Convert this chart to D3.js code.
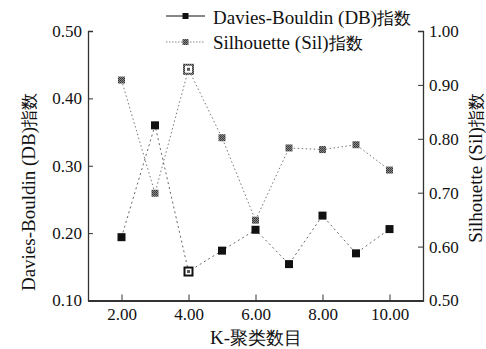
<!DOCTYPE html>
<html>
<head>
<meta charset="utf-8">
<script src="https://cdn.jsdelivr.net/npm/d3@7/dist/d3.min.js"></script>
<style>
  html, body { margin: 0; padding: 0; background: #fff; }
  svg { display: block; }
</style>
</head>
<body>
<svg id="chart" width="486" height="349"></svg>
<script>
// Cluster count K and the two validity indices
const kValues = [2, 3, 4, 5, 6, 7, 8, 9, 10];
const dbValues = [0.194, 0.360, 0.143, 0.174, 0.205, 0.154, 0.226, 0.170, 0.206];
const silValues = [0.909, 0.699, 0.929, 0.802, 0.649, 0.783, 0.780, 0.789, 0.742];
const bestK = 4;

const xTicks = [2, 4, 6, 8, 10];
const dbTicks = [0.1, 0.2, 0.3, 0.4, 0.5];
const silTicks = [0.5, 0.6, 0.7, 0.8, 0.9, 1.0];

// labels split into Latin / CJK runs so each run gets its own size
const dbLabel = ["Davies-Bouldin (DB)", "指数"];
const silLabel = ["Silhouette (Sil)", "指数"];
const xLabel = ["K-", "聚类数目"];

const FONT = '"Liberation Serif"';

const svg = d3.select("#chart");
const plotLeft = 88, plotRight = 423, plotTop = 31, plotBottom = 300.5;

const x = d3.scaleLinear().domain([1, 11]).range([plotLeft, plotRight]);
const yDB = d3.scaleLinear().domain([0.1, 0.5]).range([plotBottom, plotTop]);
const ySil = d3.scaleLinear().domain([0.5, 1.0]).range([plotBottom, plotTop]);

function styleAxis(g) {
  g.attr("font-family", FONT).attr("font-size", 17);
  g.select(".domain").attr("stroke", "#333").attr("stroke-width", 1.3);
  g.selectAll(".tick line").attr("stroke", "#333").attr("stroke-width", 1);
  g.selectAll(".tick text").attr("fill", "#111");
}

// bottom axis, ticks pointing inward
svg.append("g").attr("transform", `translate(0,${plotBottom})`)
  .call(d3.axisBottom(x).tickValues(xTicks).tickFormat(d3.format(".2f"))
    .tickSizeInner(-6).tickSizeOuter(0).tickPadding(7))
  .call(styleAxis)
  .call(g => g.select(".domain").attr("stroke-width", 2));

// left axis (DB)
svg.append("g").attr("transform", `translate(${plotLeft},0)`)
  .call(d3.axisLeft(yDB).tickValues(dbTicks).tickFormat(d3.format(".2f"))
    .tickSizeInner(-5).tickSizeOuter(-5).tickPadding(6))
  .call(styleAxis);

// right axis (Sil)
svg.append("g").attr("transform", `translate(${plotRight},0)`)
  .call(d3.axisRight(ySil).tickValues(silTicks).tickFormat(d3.format(".2f"))
    .tickSizeInner(-5).tickSizeOuter(-5).tickPadding(6))
  .call(styleAxis);

function mixedText(sel, parts, latinSize, cjkSize) {
  sel.append("tspan").attr("font-size", latinSize).text(parts[0]);
  sel.append("tspan").attr("font-size", cjkSize).text(parts[1]);
  return sel;
}

// axis titles
const titles = svg.append("g").attr("font-family", FONT).attr("fill", "#111");
titles.append("text")
  .attr("transform", `translate(35,192) rotate(-90)`)
  .attr("text-anchor", "middle")
  .call(mixedText, dbLabel, 19, 17);
titles.append("text")
  .attr("transform", `translate(482,168) rotate(-90)`)
  .attr("text-anchor", "middle")
  .call(mixedText, silLabel, 19, 17);
titles.append("text")
  .attr("x", 256).attr("y", 344)
  .attr("text-anchor", "middle")
  .call(mixedText, xLabel, 19, 18);

// series lines
const dbLine = d3.line().x((d, i) => x(kValues[i])).y(d => yDB(d));
const silLine = d3.line().x((d, i) => x(kValues[i])).y(d => ySil(d));

svg.append("path").datum(silValues).attr("d", silLine)
  .attr("fill", "none").attr("stroke", "#777").attr("stroke-width", 1)
  .attr("stroke-dasharray", "1.5,2.5");
svg.append("path").datum(dbValues).attr("d", dbLine)
  .attr("fill", "none").attr("stroke", "#666").attr("stroke-width", 1)
  .attr("stroke-dasharray", "2,3");

// patterned fill for the Sil markers
const defs = svg.append("defs");
const pat = defs.append("pattern").attr("id", "silFill")
  .attr("width", 2).attr("height", 2).attr("patternUnits", "userSpaceOnUse");
pat.append("rect").attr("width", 2).attr("height", 2).attr("fill", "#888");
pat.append("rect").attr("width", 1).attr("height", 1).attr("fill", "#333");
pat.append("rect").attr("x", 1).attr("y", 1).attr("width", 1).attr("height", 1).attr("fill", "#444");

// Sil markers
svg.append("g").selectAll("rect").data(silValues).join("rect")
  .attr("x", (d, i) => x(kValues[i]) - 3.5)
  .attr("y", d => ySil(d) - 3.5)
  .attr("width", 7).attr("height", 7)
  .attr("fill", "url(#silFill)");

// DB markers
svg.append("g").selectAll("rect").data(dbValues).join("rect")
  .attr("x", (d, i) => x(kValues[i]) - 4)
  .attr("y", d => yDB(d) - 4)
  .attr("width", 8).attr("height", 8)
  .attr("fill", "#111");

// highlight the optimum K on both series
const bi = kValues.indexOf(bestK);
const hl = svg.append("g");
[[x(bestK), yDB(dbValues[bi]), "#111", 5], [x(bestK), ySil(silValues[bi]), "url(#silFill)", 5.5]].forEach(([cx, cy, c, h]) => {
  hl.append("rect").attr("x", cx - h).attr("y", cy - h).attr("width", 2 * h).attr("height", 2 * h)
    .attr("fill", c);
  hl.append("rect").attr("x", cx - h + 2).attr("y", cy - h + 2).attr("width", 2 * h - 4).attr("height", 2 * h - 4)
    .attr("fill", "#fff");
  hl.append("rect").attr("x", cx - 1.5).attr("y", cy - 1.5).attr("width", 3).attr("height", 3)
    .attr("fill", "#555");
});

// legend
const legend = svg.append("g").attr("font-family", FONT).attr("fill", "#111");
const rows = [
  { label: dbLabel, stroke: "#111", dash: null, fill: "#111", y: 16, base: 24 },
  { label: silLabel, stroke: "#888", dash: "1.5,1.5", fill: "url(#silFill)", y: 42, base: 48.5 }
];
rows.forEach(r => {
  legend.append("line").attr("x1", 166).attr("x2", 205).attr("y1", r.y).attr("y2", r.y)
    .attr("stroke", r.stroke).attr("stroke-width", 1)
    .attr("stroke-dasharray", r.dash);
  legend.append("rect").attr("x", 182.5).attr("y", r.y - 3).attr("width", 6).attr("height", 6)
    .attr("fill", r.fill);
  legend.append("text").attr("x", 213).attr("y", r.base).call(mixedText, r.label, 19, 17);
});
</script>
</body>
</html>
